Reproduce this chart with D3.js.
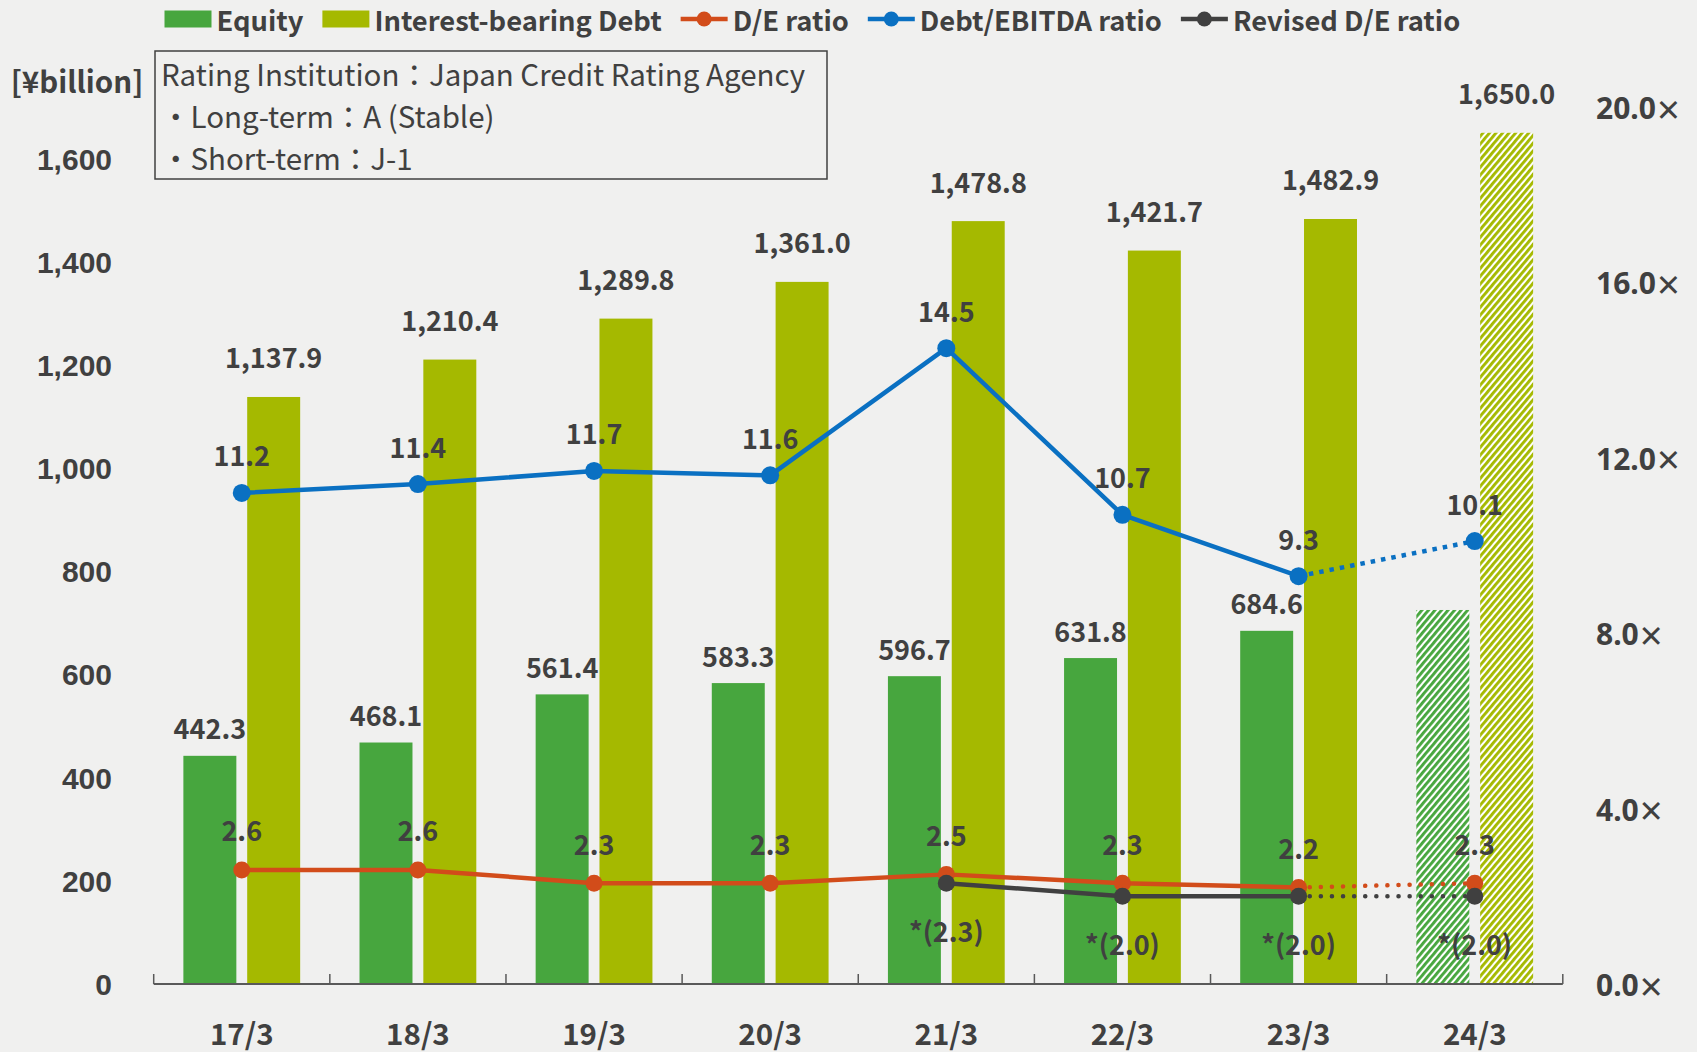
<!DOCTYPE html>
<html><head><meta charset="utf-8">
<script src="https://cdn.jsdelivr.net/npm/d3@7"></script>
<style>
html,body{margin:0;padding:0;background:#f0f0ef;}
svg{display:block;font-family:"Noto Sans CJK JP","Noto Sans",sans-serif;}
</style></head><body>
<svg id="chart" width="1697" height="1052"></svg>
<script>
// ---- data ----
const categories = ["17/3","18/3","19/3","20/3","21/3","22/3","23/3","24/3"];
const equity     = [442.3, 468.1, 561.4, 583.3, 596.7, 631.8, 684.6, 725.0];
const debt       = [1137.9, 1210.4, 1289.8, 1361.0, 1478.8, 1421.7, 1482.9, 1650.0];
const deRatio    = [2.6, 2.6, 2.3, 2.3, 2.5, 2.3, 2.2, 2.3];
const debtEbitda = [11.2, 11.4, 11.7, 11.6, 14.5, 10.7, 9.3, 10.1];
const revisedDE  = [null, null, null, null, 2.3, 2.0, 2.0, 2.0];
const forecast   = [false, false, false, false, false, false, false, true];
const showEquityLabel = [true, true, true, true, true, true, true, false];
const leftTicks  = [0, 200, 400, 600, 800, 1000, 1200, 1400, 1600];
const rightTicks = [0, 4, 8, 12, 16, 20];
const legendNames = ["Equity", "Interest-bearing Debt", "D/E ratio", "Debt/EBITDA ratio", "Revised D/E ratio"];
const ratingLines = ["Rating Institution：Japan Credit Rating Agency", "・Long-term：A (Stable)", "・Short-term：J-1"];
const unitLabel = "[¥billion]";

// ---- styles ----
const C = {equity:"#47a63e", debt:"#a5b900", de:"#d24c1a", ebitda:"#0a70c2", rev:"#404040", text:"#404040", axis:"#595959", bg:"#f0f0ef"};

const svg = d3.select("#chart");
svg.append("rect").attr("width",1697).attr("height",1052).attr("fill",C.bg);
const defs = svg.append("defs");
function hatch(id, color){
  const p = defs.append("pattern").attr("id",id).attr("patternUnits","userSpaceOnUse")
    .attr("width",5).attr("height",10).attr("patternTransform","rotate(40)");
  p.append("rect").attr("width",5).attr("height",10).attr("fill","#ffffff");
  p.append("rect").attr("width",2.9).attr("height",10).attr("fill",color);
}
hatch("hEq", C.equity); hatch("hDebt", C.debt);

const x = d3.scaleBand().domain(categories).range([153.7, 1562.8]);
const xs = d3.scaleBand().domain(["equity","debt"]).range([0, x.bandwidth()]).paddingInner(0.17).paddingOuter(0.465);
const yL = d3.scaleLinear().domain([0,1700]).range([984,107]);
const yR = d3.scaleLinear().domain([0,20]).range([984,107]);
const cx = d => x(d) + x.bandwidth()/2;
const fmt = d3.format(",.1f");
const FS = 27;

// ---- bars ----
const rows = categories.map((c,i)=>({c, i, equity:equity[i], debt:debt[i], f:forecast[i]}));
const g = svg.append("g");
g.selectAll(".be").data(rows).join("rect")
  .attr("x", d=>x(d.c)+xs("equity")).attr("width", xs.bandwidth())
  .attr("y", d=>yL(d.equity)).attr("height", d=>yL(0)-yL(d.equity))
  .attr("fill", d=>d.f?"url(#hEq)":C.equity);
g.selectAll(".bd").data(rows).join("rect")
  .attr("x", d=>x(d.c)+xs("debt")).attr("width", xs.bandwidth())
  .attr("y", d=>yL(d.debt)).attr("height", d=>yL(0)-yL(d.debt))
  .attr("fill", d=>d.f?"url(#hDebt)":C.debt);

// ---- x axis ----
const xAxis = d3.axisBottom(x).tickSize(0).tickPadding(0);
const xg = svg.append("g").attr("transform","translate(0,984)").call(xAxis);
xg.select(".domain").remove();
xg.selectAll("text").remove();
svg.append("line").attr("x1",x.range()[0]).attr("x2",x.range()[1]).attr("y1",984).attr("y2",984)
  .attr("stroke",C.axis).attr("stroke-width",2);
const bounds = categories.map(c=>x(c)).concat([x.range()[1]]);
svg.selectAll(".xt").data(bounds).join("line")
  .attr("x1",d=>d).attr("x2",d=>d).attr("y1",984).attr("y2",974)
  .attr("stroke",C.axis).attr("stroke-width",1.5);
svg.selectAll(".xl").data(categories).join("text")
  .attr("x",d=>cx(d)).attr("y",1032).attr("text-anchor","middle").attr("dominant-baseline","central")
  .attr("font-size",29.5).attr("font-weight","bold").attr("fill",C.text).text(d=>d);

// ---- left axis ----
const yAxisL = d3.axisLeft(yL).tickValues(leftTicks).tickSize(0).tickFormat(d3.format(","));
const ylg = svg.append("g").attr("transform","translate(112,0)").call(yAxisL);
ylg.select(".domain").remove();
ylg.selectAll("text").attr("x",0).attr("dy",null).attr("dominant-baseline","central")
  .attr("font-size",30).attr("font-weight","bold").attr("fill",C.text).attr("font-family",null);
// right axis
const yAxisR = d3.axisRight(yR).tickValues(rightTicks).tickSize(0).tickFormat(d=>d3.format(".1f")(d));
const yrg = svg.append("g").attr("transform","translate(1596,0)").call(yAxisR);
yrg.select(".domain").remove();
yrg.selectAll("text").attr("x",0).attr("dy",null).attr("dominant-baseline","central")
  .attr("font-size",30).attr("font-weight","bold").attr("fill",C.text).attr("font-family","'Noto Sans',sans-serif")
  .append("tspan").attr("font-weight","normal").attr("font-size",40).attr("dx",1).text("×");

// unit label
svg.append("text").attr("x",77).attr("y",80).attr("text-anchor","middle").attr("dominant-baseline","central")
  .attr("font-size",29.5).attr("font-weight","bold").attr("fill",C.text).text(unitLabel);

// ---- bar labels ----
svg.selectAll(".le").data(rows.filter(d=>showEquityLabel[d.i])).join("text")
  .attr("x",d=>x(d.c)+xs("equity")+xs.bandwidth()/2).attr("y",d=>yL(d.equity)-28)
  .attr("text-anchor","middle").attr("dominant-baseline","central")
  .attr("font-size",FS).attr("font-weight","bold").attr("fill",C.text).text(d=>fmt(d.equity));
svg.selectAll(".ld").data(rows).join("text")
  .attr("x",d=>x(d.c)+xs("debt")+xs.bandwidth()/2).attr("y",d=>yL(d.debt)-40)
  .attr("text-anchor","middle").attr("dominant-baseline","central")
  .attr("font-size",FS).attr("font-weight","bold").attr("fill",C.text).text(d=>fmt(d.debt));

// ---- lines ----
function series(values, color, dash, cap, r){
  const pts = categories.map((c,i)=>({c,i,v:values[i]})).filter(d=>d.v!=null);
  const solid = pts.filter(d=>!forecast[d.i]);
  const lastSolid = solid[solid.length-1];
  const dotted = [lastSolid].concat(pts.filter(d=>forecast[d.i]));
  const line = d3.line().x(d=>cx(d.c)).y(d=>yR(d.v));
  svg.append("path").attr("d",line(solid)).attr("fill","none").attr("stroke",color).attr("stroke-width",4.5).attr("stroke-linejoin","round");
  svg.append("path").attr("d",line(dotted)).attr("fill","none").attr("stroke",color).attr("stroke-width",4.5)
    .attr("stroke-dasharray",dash).attr("stroke-linecap",cap);
  svg.selectAll(null).data(pts).join("circle").attr("cx",d=>cx(d.c)).attr("cy",d=>yR(d.v)).attr("r",r).attr("fill",color);
  return pts;
}
const pDE = series(deRatio, C.de, "0.1,11", "round", 8.5);
const pEB = series(debtEbitda, C.ebitda, "4.5,6", "butt", 9);
const pRV = series(revisedDE, C.rev, "0.1,11", "round", 8.5);

function ptLabels(pts, dy, f){
  svg.selectAll(null).data(pts).join("text")
    .attr("x",d=>cx(d.c)).attr("y",d=>yR(d.v)+dy)
    .attr("text-anchor","middle").attr("dominant-baseline","central")
    .attr("font-size",FS).attr("font-weight","bold").attr("fill",C.text).text(f);
}
ptLabels(pDE, -40, d=>d.v.toFixed(1));
ptLabels(pEB, -38, d=>d.v.toFixed(1));
ptLabels(pRV, 47, d=>"*("+d.v.toFixed(1)+")");

// ---- rating box ----
svg.append("rect").attr("x",155).attr("y",51).attr("width",672).attr("height",128)
  .attr("fill","none").attr("stroke",C.text).attr("stroke-width",1.5);
svg.selectAll(".rt").data(ratingLines).join("text")
  .attr("x",161).attr("y",(d,i)=>72.5+i*42).attr("dominant-baseline","central")
  .attr("font-size",29.5).attr("fill",C.text).text(d=>d);

// ---- legend ----
const leg = svg.append("g");
let lx = 164.5;
const ly = 19;
const kinds = [{t:"rect",c:C.equity},{t:"rect",c:C.debt},{t:"line",c:C.de},{t:"line",c:C.ebitda},{t:"line",c:C.rev}];
legendNames.forEach((name,i)=>{
  const k = kinds[i];
  if(k.t==="rect"){
    leg.append("rect").attr("x",lx).attr("y",ly-8.5).attr("width",47).attr("height",17).attr("fill",k.c);
  } else {
    leg.append("line").attr("x1",lx).attr("x2",lx+47).attr("y1",ly).attr("y2",ly).attr("stroke",k.c).attr("stroke-width",4.5);
    leg.append("circle").attr("cx",lx+23.5).attr("cy",ly).attr("r",7.5).attr("fill",k.c);
  }
  const t = leg.append("text").attr("x",lx+52).attr("y",ly).attr("dominant-baseline","central")
    .attr("font-size",27.3).attr("font-weight","bold").attr("fill",C.text).text(name);
  lx = lx + 52 + t.node().getComputedTextLength() + 19;
});
</script>
</body></html>
